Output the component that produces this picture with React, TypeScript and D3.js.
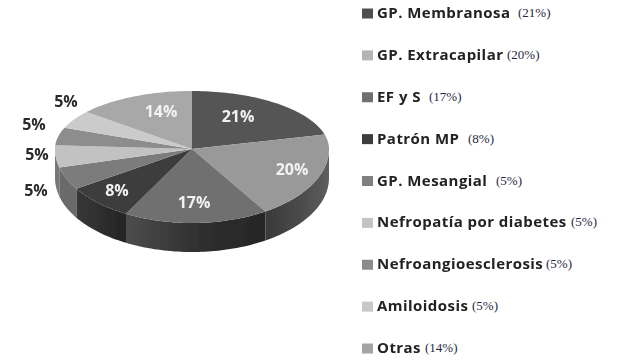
import React from 'react';
import * as d3 from 'd3';

const categories = ['GP. Membranosa', 'GP. Extracapilar', 'EF y S', 'Patrón MP', 'GP. Mesangial', 'Nefropatía por diabetes', 'Nefroangioesclerosis', 'Amiloidosis', 'Otras'];
const values = [21, 20, 17, 8, 5, 5, 5, 5, 14];
const topColors = ['#555555', '#999999', '#6f6f6f', '#3d3d3d', '#7b7b7b', '#c2c2c2', '#8d8d8d', '#cbcbcb', '#a8a8a8'];
const swatchColors = ['#4f4f4f', '#b4b4b4', '#707070', '#3c3c3c', '#808080', '#c4c4c4', '#8a8a8a', '#c8c8c8', '#a4a4a4'];
const sideFills = ['#555', 'url(#side1g)', 'url(#side2g)', 'url(#side3g)', '#6a6a6a', '#777', '#777', '#777', '#777'];
// x where the "(nn%)" note starts in each legend row
const noteX = [518, 507, 429, 468, 496, 571, 546, 472, 425];
// label spots, same order as values
const labelPos: [number, number][] = [[238, 122], [292, 175], [194, 208], [117, 196], [36, 196], [37, 160], [34, 130], [66, 107], [161, 117]];
const labelColors = ['#f2f2f2', '#f2f2f2', '#f2f2f2', '#f2f2f2', '#2a2a2a', '#2a2a2a', '#2a2a2a', '#2a2a2a', '#f2f2f2'];

const width = 620;
const height = 361;
const cx = 192;
const cy = 149;
const depth = 29;

const xScale = d3.scaleLinear().domain([-1, 1]).range([55, 329]);
const yUp = d3.scaleLinear().domain([0, 1]).range([cy, 91]);
const yDown = d3.scaleLinear().domain([0, 1]).range([cy, 223]);

const rimPoint = (a: number): [number, number] => {
  const c = Math.cos(a);
  return [xScale(Math.sin(a)), c >= 0 ? yUp(c) : yDown(-c)];
};

const arcs = d3.pie<number>().sort(null)(values);
const line = d3.line();
const rim = (a0: number, a1: number) => {
  const n = Math.max(2, Math.ceil((a1 - a0) * 40));
  return d3.range(n + 1).map((i) => rimPoint(a0 + ((a1 - a0) * i) / n));
};

const legendY = d3.scalePoint<string>().domain(categories).range([13, 348]);

export default function App() {
  return (
    <svg width={width} height={height} style={{ position: 'absolute', left: 0, top: 0, background: '#fff' }}>
      <defs>
        <filter id="soft" x="-5%" y="-5%" width="110%" height="110%">
          <feGaussianBlur stdDeviation="0.6" />
        </filter>
        <filter id="softText" x="-5%" y="-20%" width="110%" height="140%">
          <feGaussianBlur stdDeviation="0.35" />
        </filter>
        <linearGradient id="side1g" gradientUnits="userSpaceOnUse" x1={268} x2={329} y1={0} y2={0}>
          <stop offset="0" stopColor="#3a3a3a" />
          <stop offset="0.5" stopColor="#4a4a4a" />
          <stop offset="1" stopColor="#5e5e5e" />
        </linearGradient>
        <linearGradient id="side2g" gradientUnits="userSpaceOnUse" x1={122} x2={268} y1={0} y2={0}>
          <stop offset="0" stopColor="#4e4e4e" />
          <stop offset="0.55" stopColor="#2e2e2e" />
          <stop offset="1" stopColor="#262626" />
        </linearGradient>
        <linearGradient id="side3g" gradientUnits="userSpaceOnUse" x1={70} x2={122} y1={0} y2={0}>
          <stop offset="0" stopColor="#3a3a3a" />
          <stop offset="1" stopColor="#262626" />
        </linearGradient>
      </defs>

      <g filter="url(#soft)">
        {/* wall */}
        {arcs.map((d, i) => {
          const start = Math.max(d.startAngle, Math.PI / 2);
          const end = Math.min(d.endAngle, (3 * Math.PI) / 2);
          if (end <= start) return null;
          const pts = rim(start, end);
          const low = pts.map(([x, y]) => [x, y + depth] as [number, number]).reverse();
          return <path key={i} d={line([...pts, ...low])! + 'Z'} fill={sideFills[i]} />;
        })}
        {/* top face */}
        {arcs.map((d, i) => (
          <path key={i} d={line([[cx, cy], ...rim(d.startAngle, d.endAngle)])! + 'Z'} fill={topColors[i]} />
        ))}
      </g>

      <g filter="url(#softText)" fontFamily="'Open Sans', sans-serif" fontWeight={700} fontSize={16}>
        {values.map((v, i) => (
          <text key={i} x={labelPos[i][0]} y={labelPos[i][1]} textAnchor="middle" fill={labelColors[i]}>{v}%</text>
        ))}
      </g>

      <g>
        {categories.map((c, i) => {
          const y = legendY(c)!;
          return (
            <g key={c}>
              <rect x={362} y={y - 4.5} width={11} height={10} fill={swatchColors[i]} filter="url(#softText)" />
              <text x={377} y={y + 5} fontFamily="'Open Sans', sans-serif" fontWeight={700} fontSize={15} letterSpacing={0.45} fill="#222" filter="url(#softText)">{c}</text>
              <text x={noteX[i]} y={y + 4} fontFamily="'Liberation Serif', serif" fontSize={13} fill="#1f2a44">({values[i]}%)</text>
            </g>
          );
        })}
      </g>
    </svg>
  );
}
